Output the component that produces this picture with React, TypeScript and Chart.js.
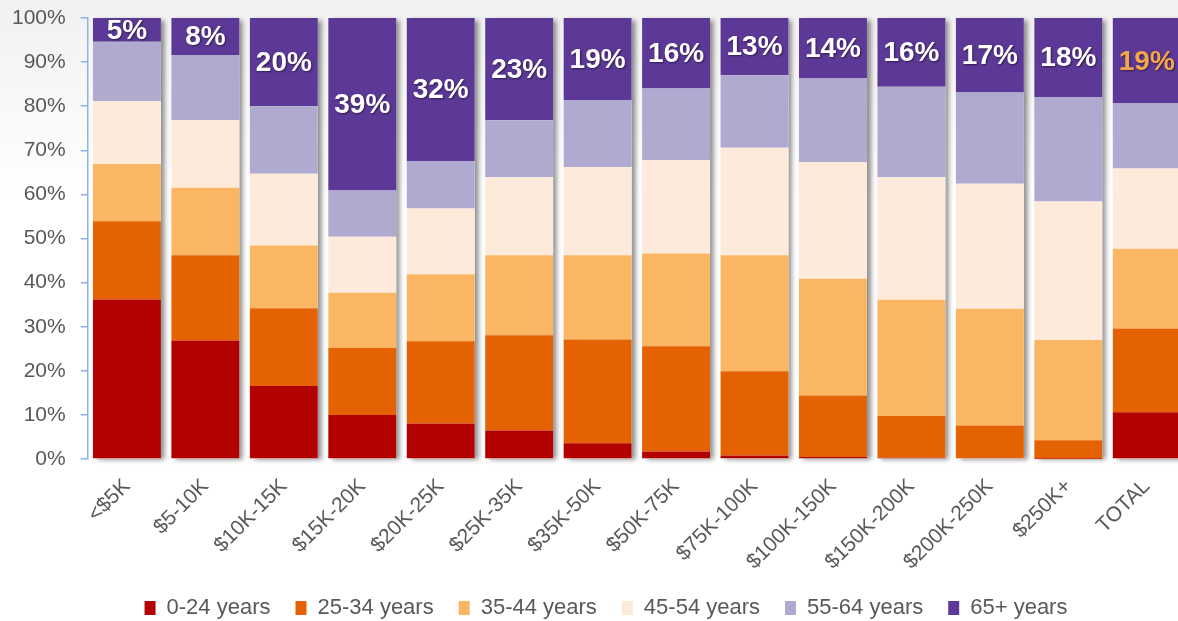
import React, { useEffect, useRef } from "react";
import { Chart, registerables } from "chart.js";
Chart.register(...registerables);

const categories = ["<$5K", "$5-10K", "$10K-15K", "$15K-20K", "$20K-25K", "$25K-35K", "$35K-50K", "$50K-75K", "$75K-100K", "$100K-150K", "$150K-200K", "$200K-250K", "$250K+", "TOTAL"];
const seriesNames = ["0-24 years", "25-34 years", "35-44 years", "45-54 years", "55-64 years", "65+ years"];
const age0_24 = [36.2, 26.9, 16.6, 10.0, 8.1, 6.5, 3.6, 1.7, 0.8, 0.5, 0.3, 0.2, 0.1, 10.6];
const age25_34 = [17.7, 19.3, 17.6, 15.2, 18.6, 21.6, 23.5, 23.9, 19.1, 13.9, 9.5, 7.4, 4.2, 19.0];
const age35_44 = [13.0, 15.3, 14.2, 12.5, 15.2, 18.1, 19.1, 21.0, 26.3, 26.5, 26.3, 26.5, 22.7, 18.1];
const age45_54 = [14.3, 15.3, 16.3, 12.7, 14.9, 17.7, 20.0, 21.2, 24.4, 26.4, 27.8, 28.3, 31.4, 18.2];
const age55_64 = [13.4, 14.8, 15.3, 10.5, 10.8, 12.9, 15.2, 16.2, 16.4, 19.0, 20.5, 20.7, 23.7, 14.7];
const age65plus = [5.4, 8.4, 20.0, 39.1, 32.4, 23.2, 18.6, 16.0, 13.0, 13.7, 15.6, 16.9, 17.9, 19.4];
const yTicks = [0, 10, 20, 30, 40, 50, 60, 70, 80, 90, 100];

const seriesValues = [age0_24, age25_34, age35_44, age45_54, age55_64, age65plus];
const colors = ["#B30000", "#E46201", "#FBB663", "#FDEADB", "#B0AAD1", "#5C3996"];
const FONT = "'Liberation Sans', Arial, sans-serif";
const TEXT = "#595959";

const bgPlugin = {
  id: "bgGrad",
  beforeDraw(chart: any) {
    const { ctx, width, height } = chart;
    const g = ctx.createLinearGradient(0, 0, 0, 200);
    g.addColorStop(0, "#f1f1f1");
    g.addColorStop(1, "#ffffff");
    ctx.save();
    ctx.fillStyle = "#ffffff";
    ctx.fillRect(0, 0, width, height);
    ctx.fillStyle = g;
    ctx.fillRect(0, 0, width, 200);
    ctx.restore();
  },
};

const legendShiftPlugin = {
  id: "legendShift",
  afterLayout(chart: any) {
    const lg = chart.legend;
    if (!lg) return;
    const shift = 606 - (lg.left + lg.right) / 2;
    lg.left += shift;
    lg.right += shift;
  },
};

const shadowPlugin = {
  id: "barShadow",
  beforeDatasetsDraw(chart: any) {
    const { ctx } = chart;
    const first = chart.getDatasetMeta(0).data;
    const last = chart.getDatasetMeta(chart.data.datasets.length - 1).data;
    ctx.save();
    ctx.shadowColor = "rgba(0,0,0,0.45)";
    ctx.shadowBlur = 5;
    ctx.shadowOffsetX = 4;
    ctx.shadowOffsetY = 2;
    ctx.fillStyle = "#ffffff";
    first.forEach((el: any, i: number) => {
      const top = last[i].y;
      const bottom = el.base;
      const w = el.width;
      ctx.fillRect(el.x - w / 2, top, w, bottom - top);
    });
    ctx.restore();
  },
};

const labelPlugin = {
  id: "topLabels",
  afterDatasetsDraw(chart: any) {
    const { ctx } = chart;
    const idx = chart.data.datasets.length - 1;
    const meta = chart.getDatasetMeta(idx);
    const vals = chart.data.datasets[idx].data;
    ctx.save();
    ctx.font = `bold 28px ${FONT}`;
    ctx.textAlign = "center";
    ctx.textBaseline = "middle";
    ctx.shadowColor = "rgba(40,20,60,0.8)";
    ctx.shadowBlur = 2;
    ctx.shadowOffsetX = 1;
    ctx.shadowOffsetY = 1;
    meta.data.forEach((el: any, i: number) => {
      const cy = (el.y + el.base) / 2;
      ctx.fillStyle = i === vals.length - 1 ? "#F6A64A" : "#ffffff";
      ctx.fillText(Math.round(vals[i]) + "%", el.x, cy + 1);
    });
    ctx.restore();
  },
};

export default function App() {
  const ref = useRef<HTMLCanvasElement>(null);
  useEffect(() => {
    if (!ref.current) return;
    const chart = new Chart(ref.current, {
      type: "bar",
      data: {
        labels: categories,
        datasets: seriesValues.map((vals, i) => ({
          label: seriesNames[i],
          data: vals,
          backgroundColor: colors[i],
          borderWidth: 0,
          barPercentage: 0.866,
          categoryPercentage: 1,
        })),
      },
      options: {
        responsive: false,
        animation: false,
        devicePixelRatio: 1,
        layout: { padding: { left: -3, right: 26, top: 18, bottom: -8 } },
        plugins: {
          tooltip: { enabled: false },
          legend: {
            position: "bottom",
            labels: {
              font: { family: FONT, size: 22 },
              color: TEXT,
              boxWidth: 11,
              boxHeight: 14,
              padding: 25,
            },
          },
        },
        scales: {
          x: {
            stacked: true,
            grid: { display: false },
            border: { display: false },
            afterFit: (s: any) => {
              s.paddingLeft = 0;
              s.paddingRight = 0;
              s.height = s.height - 9.5;
            },
            ticks: {
              font: { family: FONT, size: 21 },
              color: TEXT,
              maxRotation: 45,
              minRotation: 45,
              autoSkip: false,
              padding: 7,
            },
          },
          y: {
            stacked: true,
            min: 0,
            max: 100,
            afterFit: (s: any) => {
              s.paddingTop = 0;
              s.paddingBottom = 0;
            },
            afterBuildTicks: (axis: any) => {
              axis.ticks = yTicks.map((v) => ({ value: v }));
            },
            ticks: {
              font: { family: FONT, size: 21 },
              color: TEXT,
              padding: 15,
              callback: (v: any) => v + "%",
            },
            grid: {
              display: true,
              drawOnChartArea: false,
              drawTicks: true,
              tickLength: 7,
              color: "#8DB3E2",
              lineWidth: 1.5,
            },
            border: { display: true, color: "#8DB3E2", width: 1.5 },
          },
        },
      },
      plugins: [bgPlugin, legendShiftPlugin, shadowPlugin, labelPlugin],
    });
    return () => chart.destroy();
  }, []);
  return (
    <div style={{ position: "fixed", left: 0, top: 0, width: 1178, height: 621, overflow: "hidden", background: "#fff" }}>
      <canvas ref={ref} width={1212} height={621} style={{ display: "block" }} />
    </div>
  );
}
